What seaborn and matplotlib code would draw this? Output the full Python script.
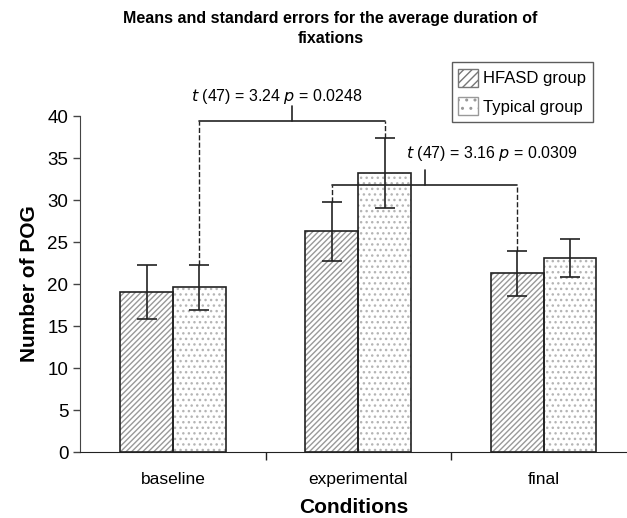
import numpy as np
import pandas as pd
import seaborn as sns
from matplotlib import pyplot as plt
from matplotlib.patches import Rectangle

# values
conditions = ['baseline', 'experimental', 'final']
groups = ['HFASD group', 'Typical group']
hfasd_mean = [19.1, 26.3, 21.3]
hfasd_se = [3.2, 3.5, 2.7]
typical_mean = [19.6, 33.2, 23.1]
typical_se = [2.7, 4.2, 2.3]

df = pd.DataFrame({
    'Conditions': conditions * 2,
    'group': [groups[0]] * 3 + [groups[1]] * 3,
    'value': hfasd_mean + typical_mean,
})
errs = hfasd_se + typical_se

sns.set_style('white')
plt.rcParams['font.family'] = ['Liberation Sans', 'DejaVu Sans']
plt.rcParams['text.color'] = 'black'
plt.rcParams['axes.labelcolor'] = 'black'
plt.rcParams['xtick.color'] = 'black'
plt.rcParams['ytick.color'] = 'black'
plt.rcParams['hatch.linewidth'] = 1.0

fig = plt.figure(figsize=(6.27, 5.18), dpi=100)
ax = fig.add_axes([0.128, 0.127, 0.872, 0.649])

sns.barplot(data=df, x='Conditions', y='value', hue='group', ax=ax,
            errorbar=None, width=0.57, palette=['white', 'white'],
            edgecolor='#888888', linewidth=0)

hatches = ['//////', '...']
bars = [p for p in ax.patches if p.get_height() > 0]
centers = []
for i, p in enumerate(bars):
    p.set_hatch(hatches[i // 3])
    p.set_edgecolor('#999999' if i < 3 else '#b5b5b5')
    ax.add_patch(Rectangle((p.get_x(), 0), p.get_width(), p.get_height(),
                           fill=False, edgecolor='#222222', linewidth=1.2, zorder=3))
    cx = p.get_x() + p.get_width() / 2
    centers.append(cx)
    ax.errorbar(cx, df['value'][i], yerr=errs[i], fmt='none', ecolor='#222222',
                elinewidth=1.2, capsize=7, capthick=1.2, zorder=4)

# significance brackets
tops = [v + e for v, e in zip(df['value'], errs)]

def bracket(x1, y1, x2, y2, h, label, tx, ty, ha):
    ax.plot([x1, x1], [y1, h], ls='--', color='#222222', lw=1, clip_on=False, zorder=5)
    ax.plot([x2, x2], [y2, h], ls='--', color='#222222', lw=1, clip_on=False, zorder=5)
    ax.plot([x1, x2], [h, h], color='#222222', lw=1.2, clip_on=False, zorder=5)
    mid = (x1 + x2) / 2
    ax.plot([mid, mid], [h, h + 1.8], color='#222222', lw=1.2, clip_on=False, zorder=5)
    ax.text(tx, ty, label, ha=ha, va='center', fontsize=11.5)

bracket(centers[3], tops[3], centers[4], tops[4], 39.4,
        r'$\it{t}$ (47) = 3.24 $\it{p}$ = 0.0248', 0.56, 42.3, 'center')
bracket(centers[1], tops[1], centers[2], tops[2], 31.8,
        r'$\it{t}$ (47) = 3.16 $\it{p}$ = 0.0309', 1.26, 35.6, 'left')

ax.set_ylim(0, 40)
ax.set_xlim(-0.5, 2.45)
ax.set_yticks(range(0, 41, 5))
ax.tick_params(axis='y', left=True, length=5, width=1, labelsize=13.5, color='#444444')
ax.tick_params(axis='x', bottom=False, labelsize=12.5, pad=11)
ax.set_xticks([0.5, 1.5], minor=True)
ax.tick_params(axis='x', which='minor', bottom=True, length=6, width=1, direction='out', color='#222222')
for s in ['top', 'right']:
    ax.spines[s].set_visible(False)
ax.spines['left'].set_color('#444444')
ax.spines['bottom'].set_color('#222222')
ax.set_ylabel('Number of POG', fontsize=15, fontweight='bold', labelpad=6)
ax.set_xlabel('Conditions', fontsize=15, fontweight='bold', labelpad=8)

fig.text(0.527, 0.945, 'Means and standard errors for the average duration of\nfixations',
         ha='center', va='center', fontsize=11.5, fontweight='bold', linespacing=1.45)

handles = [Rectangle((0, 0), 1, 1, facecolor='white', edgecolor='#777777', hatch='////'),
           Rectangle((0, 0), 1, 1, facecolor='white', edgecolor='#999999', hatch='..')]
ax.get_legend().remove()
fig.legend(handles, groups, loc='upper right', bbox_to_anchor=(0.946, 0.880),
           fontsize=12, frameon=True, fancybox=False, edgecolor='#333333',
           handlelength=1.2, handleheight=1.3, handletextpad=0.3, borderpad=0.4,
           labelspacing=0.6, borderaxespad=0)

fig.savefig('out.png', dpi=100)
